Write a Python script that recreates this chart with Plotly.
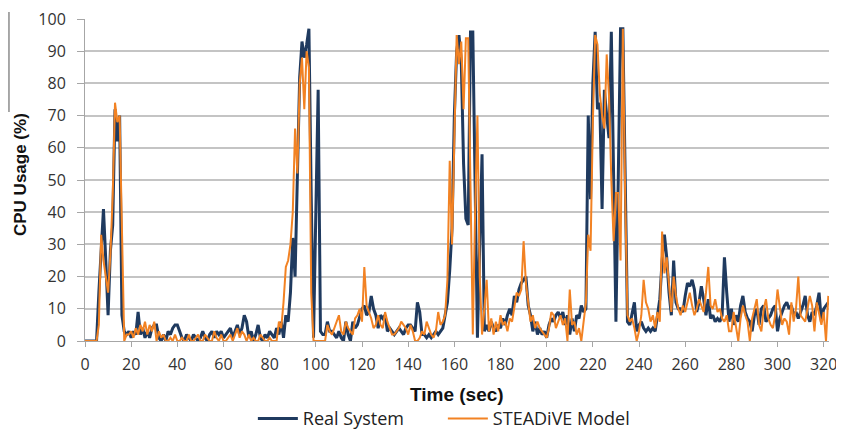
import plotly.graph_objects as go

time_sec = list(range(0, 323))

real_system = [
    0, 0, 0, 0, 0, 0, 15, 30, 41, 25,
    8, 28, 36, 72, 62, 70, 8, 3, 2, 3,
    1, 3, 2, 9, 2, 4, 1, 3, 1, 4,
    5, 5, 1, 0, 2, 0, 3, 2, 4, 5,
    5, 3, 1, 0, 2, 1, 0, 2, 1, 0,
    1, 3, 1, 0, 2, 3, 1, 3, 2, 3,
    1, 2, 3, 4, 1, 3, 5, 2, 4, 8,
    6, 1, 3, 0, 2, 5, 1, 0, 2, 1,
    3, 2, 1, 4, 2, 6, 1, 8, 6, 15,
    32, 20, 50, 82, 93, 88, 92, 97, 45, 1,
    40, 78, 3, 2, 2, 6, 3, 3, 2, 1,
    3, 1, 0, 6, 2, 0, 6, 4, 5, 8,
    10, 11, 8, 9, 14, 10, 8, 4, 8, 7,
    8, 3, 4, 3, 2, 3, 4, 3, 2, 4,
    5, 5, 4, 3, 12, 9, 2, 2, 1, 2,
    1, 2, 3, 2, 3, 4, 8, 12, 22, 35,
    70, 90, 95, 87, 55, 38, 36, 96, 96, 50,
    1, 30, 58, 3, 5, 3, 6, 4, 3, 5,
    4, 7, 5, 8, 10, 8, 14, 12, 16, 18,
    19, 20, 11, 8, 3, 6, 2, 4, 2, 3,
    1, 5, 7, 6, 8, 9, 7, 9, 5, 8,
    2, 7, 3, 8, 7, 11, 9, 10, 70, 44,
    80, 96, 72, 74, 41, 78, 70, 63, 96, 50,
    6, 50, 97, 97, 50, 6, 5, 8, 12, 3,
    5, 6, 4, 3, 4, 3, 4, 3, 8, 13,
    25, 33, 26, 15, 8, 25, 12, 10, 10, 9,
    14, 18, 17, 19, 16, 9, 12, 17, 13, 8,
    13, 7, 8, 6, 7, 6, 8, 26, 15, 6,
    10, 5, 8, 6, 11, 14, 9, 7, 6, 3,
    8, 10, 5, 10, 11, 6, 7, 8, 10, 11,
    3, 7, 9, 11, 12, 10, 11, 8, 9, 7,
    9, 11, 14, 8, 6, 9, 8, 11, 15, 6,
    10, 11, 12,
]

steadive_model = [
    0, 0, 0, 0, 0, 0, 5, 33, 25, 20,
    15, 27, 45, 74, 68, 70, 30, 0, 2, 2,
    3, 1, 4, 2, 5, 3, 6, 2, 5, 3,
    6, 0, 3, 1, 2, 0, 0, 1, 0, 2,
    0, 0, 1, 0, 0, 2, 0, 0, 1, 2,
    0, 0, 2, 1, 0, 0, 3, 1, 0, 2,
    0, 0, 1, 2, 0, 2, 4, 1, 3, 2,
    0, 2, 0, 1, 0, 0, 2, 1, 0, 0,
    1, 0, 0, 0, 6, 4, 12, 23, 25, 30,
    40, 66, 52, 80, 88, 72, 90, 85, 15, 0,
    0, 0, 0, 0, 0, 5, 3, 2, 4, 6,
    8, 3, 2, 6, 4, 3, 2, 7, 8, 10,
    6, 23, 11, 9, 7, 4, 5, 8, 5, 4,
    9, 6, 4, 2, 2, 3, 4, 6, 5, 4,
    2, 5, 3, 0, 0, 1, 3, 2, 6, 4,
    2, 1, 3, 9, 5, 6, 8, 19, 56, 30,
    60, 95, 86, 93, 72, 94, 94, 40, 2, 40,
    70, 20, 2, 10, 19, 3, 7, 2, 6, 3,
    8, 5, 6, 3, 7, 6, 11, 15, 14, 16,
    31, 18, 12, 6, 8, 4, 6, 4, 3, 2,
    1, 4, 9, 8, 4, 6, 8, 5, 7, 0,
    16, 5, 6, 2, 4, 0, 6, 12, 33, 28,
    68, 95, 92, 77, 70, 66, 89, 76, 50, 31,
    46, 46, 25, 97, 45, 8, 6, 7, 4, 0,
    3, 8, 19, 12, 10, 6, 8, 4, 9, 6,
    34, 21, 26, 18, 9, 20, 14, 10, 8, 11,
    9, 12, 15, 11, 8, 10, 13, 11, 9, 15,
    23, 11, 10, 13, 9, 10, 7, 6, 8, 3,
    3, 9, 5, 0, 7, 11, 8, 6, 0, 7,
    10, 13, 5, 3, 10, 13, 7, 5, 4, 8,
    16, 10, 5, 7, 6, 2, 12, 6, 10, 20,
    8, 7, 6, 10, 14, 11, 3, 12, 8, 5,
    9, 0, 14,
]

x_ticks = list(range(0, 321, 20))
y_ticks = list(range(0, 101, 10))

NAVY = "#1F3A5F"
ORANGE = "#F28223"

fig = go.Figure()
fig.add_trace(go.Scatter(x=time_sec, y=real_system, mode="lines", name="Real System",
                         line=dict(color=NAVY, width=3)))
fig.add_trace(go.Scatter(x=time_sec, y=steadive_model, mode="lines", name="STEADiVE Model",
                         line=dict(color=ORANGE, width=2)))

# page body has an 8px margin: figure is sized/positioned to compensate
fig.update_layout(
    width=836, height=422,
    margin=dict(l=77, r=15, t=11, b=89, autoexpand=False),
    paper_bgcolor="white", plot_bgcolor="white",
    font=dict(family="Open Sans", size=16, color="#333333"),
    showlegend=True,
    legend=dict(orientation="h", x=0.481, xanchor="center", y=-0.184, yanchor="top",
                font=dict(family="Open Sans", size=18, color="#222222"),
                itemwidth=40, tracegroupgap=0, entrywidth=135, entrywidthmode="pixels"),
    xaxis=dict(range=[0, 322.3], tickvals=x_ticks, showgrid=False, zeroline=False,
               showline=True, linecolor="#A6A6A6", linewidth=1, automargin=False,
               ticks="outside", ticklen=5, tickcolor="#A6A6A6",
               ticklabelstandoff=4, ticklabeloverflow="allow"),
    yaxis=dict(range=[0, 100], tickvals=y_ticks, showgrid=True, gridcolor="#C4C4C4", gridwidth=1.5,
               zeroline=False, showline=True, linecolor="#A6A6A6", linewidth=1, automargin=False,
               ticks="outside", ticklen=7, tickcolor="#A6A6A6",
               ticklabelstandoff=8, ticklabeloverflow="allow"),
    annotations=[
        dict(text="<b>CPU Usage (%)</b>", xref="paper", yref="paper", x=0, y=0.5,
             xanchor="center", yanchor="middle", xshift=-65, yshift=5, textangle=-90,
             showarrow=False, font=dict(family="Liberation Sans", size=17, color="#111111")),
        dict(text="<b>Time (sec)</b>", xref="paper", yref="paper", x=0.5, y=0,
             xanchor="center", yanchor="middle", yshift=-53,
             showarrow=False, font=dict(family="Liberation Sans", size=19, color="#111111")),
    ],
    shapes=[
        dict(type="line", xref="paper", yref="paper", x0=-0.1022, x1=-0.1022, y0=1.0217, y1=0.711,
             line=dict(color="#8C8C8C", width=1.5)),
    ],
)

fig.write_html("out.html")
